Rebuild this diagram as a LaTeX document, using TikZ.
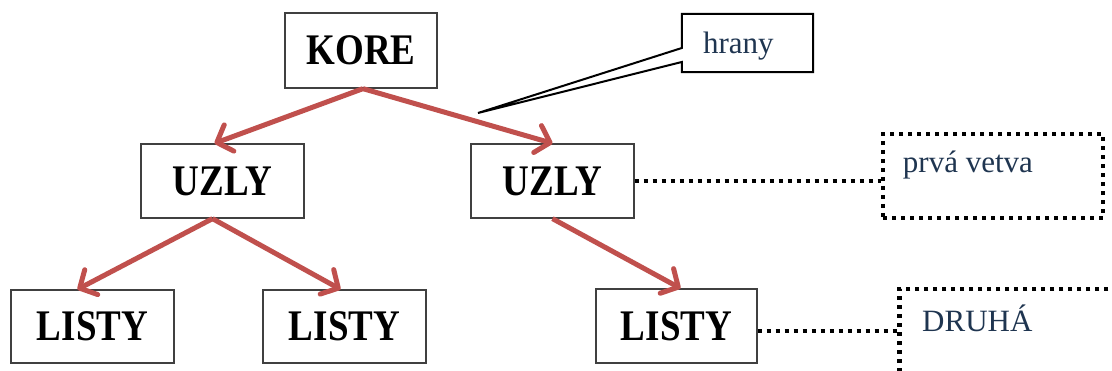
\documentclass[tikz,border=0pt]{standalone}
\usepackage{fontspec}
\setmainfont{Liberation Serif}
\usetikzlibrary{arrows.meta}
\definecolor{edgered}{HTML}{C0504D}
\definecolor{navytext}{HTML}{1F3550}
\newcommand{\tallbold}[1]{\scalebox{1}[1.18]{#1}}
\begin{document}
\begin{tikzpicture}[x=1pt,y=-1pt,
  treebox/.style={draw=black!75, line width=1.3pt, inner sep=0pt,
    font=\fontsize{37pt}{40pt}\selectfont\bfseries},
  edge/.style={draw=edgered, line width=5pt, line join=round,
    -{Straight Barb[length=13pt,width=28pt,line join=round,line cap=round]}},
  dotline/.style={line width=4.5pt, dash pattern=on 4pt off 5pt},
  note/.style={font=\fontsize{31pt}{34pt}\selectfont, text=navytext, inner sep=0pt}
]
\useasboundingbox (0,0) rectangle (1112,371);
\clip (0,0) rectangle (1112,371);

% tree boxes
\node[treebox, minimum width=152pt, minimum height=75pt] (kore) at (361,50.5) {\tallbold{KORE}};
\node[treebox, minimum width=163pt, minimum height=74pt] (uzlyL) at (222.5,181) {\tallbold{UZLY}};
\node[treebox, minimum width=163pt, minimum height=74pt] (uzlyR) at (552.5,181) {\tallbold{UZLY}};
\node[treebox, minimum width=163pt, minimum height=73pt] (listyA) at (92.5,326.5) {\tallbold{LISTY}};
\node[treebox, minimum width=163pt, minimum height=73pt] (listyB) at (344.5,326.5) {\tallbold{LISTY}};
\node[treebox, minimum width=161pt, minimum height=74pt] (listyC) at (676.5,326) {\tallbold{LISTY}};

% edges
\draw[edge] ([xshift=2pt]kore.south) -- ([xshift=-8pt]uzlyL.north);
\draw[edge] ([xshift=2pt]kore.south) -- (uzlyR.north);
\draw[edge] ([xshift=-10pt]uzlyL.south) -- ([xshift=-15pt]listyA.north);
\draw[edge] ([xshift=-10pt]uzlyL.south) -- ([xshift=-4pt]listyB.north);
\draw[edge] (uzlyR.south) -- ([xshift=4pt]listyC.north);

% callout "hrany"
\node[minimum width=131pt, minimum height=58pt, inner sep=0pt] (hr) at (747.5,43) {};
\coordinate (hrtip) at (478,113);
\draw[line width=2pt, line join=miter]
  (hr.north west) -- (hr.north east) -- (hr.south east) -- (hr.south west)
  -- ([yshift=-19pt]hr.west) -- (hrtip) -- ([yshift=-5pt]hr.west) -- cycle;
\node[note, anchor=base west] (hrtext) at ([xshift=21pt,yshift=-40pt]hr.north west) {hrany};

% dotted boxes
\node[draw, dotline, minimum width=220pt, minimum height=84pt, inner sep=0pt] (vetva) at (993,176) {};
\node[note, anchor=base west] (vetvatext) at ([xshift=22pt,yshift=-41pt]vetva.north west) {prvá vetva};
\node[draw, dotline, minimum width=220pt, minimum height=120pt, inner sep=0pt, anchor=north west] (druha) at (897,287) {};
\node[note, anchor=base west] (druhatext) at ([xshift=25pt,yshift=-45pt]druha.north west) {DRUHÁ};

% dotted connectors
\draw[dotline] (uzlyR.east) -- (uzlyR.east -| vetva.west);
\draw[dotline] ([yshift=-5pt]listyC.east) -- ([yshift=-5pt]listyC.east -| druha.west);
\end{tikzpicture}
\end{document}
